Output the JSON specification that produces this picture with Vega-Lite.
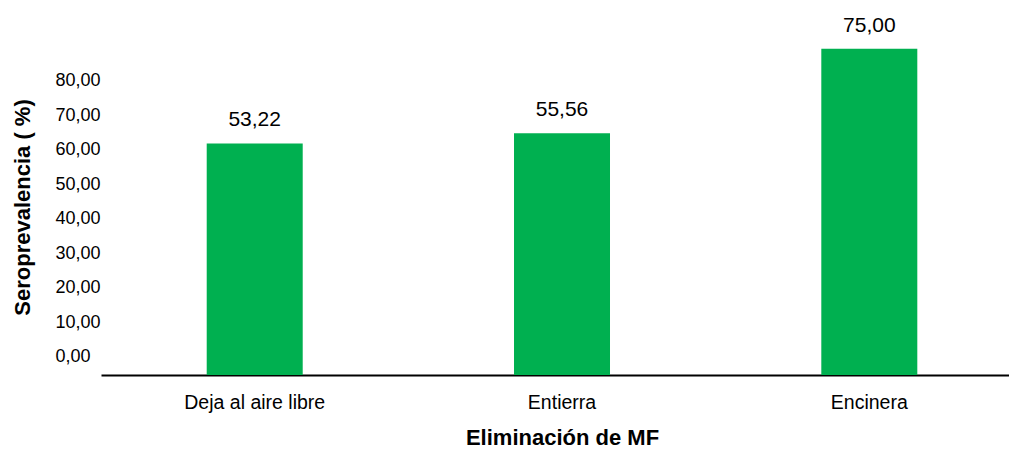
{
  "$schema": "https://vega.github.io/schema/vega-lite/v6.json",
  "width": 908,
  "height": 365,
  "autosize": "none",
  "padding": {"left": 101, "top": 10, "right": 0, "bottom": 78},
  "config": {
    "view": {"stroke": null},
    "font": "Liberation Sans, Arial, sans-serif",
    "locale": {"number": {"decimal": ",", "thousands": ".", "grouping": [3], "currency": ["", " €"]}}
  },
  "datasets": {
    "bars": [
      {"eliminacion": "Deja al aire libre", "valor": 53.22},
      {"eliminacion": "Entierra", "valor": 55.56},
      {"eliminacion": "Encinera", "valor": 75.00}
    ],
    "ticks": [
      {"t": 0}, {"t": 10}, {"t": 20}, {"t": 30}, {"t": 40}, {"t": 50}, {"t": 60}, {"t": 70}, {"t": 80}
    ]
  },
  "layer": [
    {
      "data": {"name": "bars"},
      "mark": {"type": "bar", "color": "#00B050"},
      "encoding": {
        "x": {
          "field": "eliminacion", "type": "nominal", "sort": null,
          "scale": {"paddingInner": 0.6876, "paddingOuter": 0.3212, "align": 0.5355, "round": false},
          "axis": {
            "title": "Eliminación de MF",
            "labelAngle": 0,
            "domainColor": "#000000",
            "domainWidth": 2,
            "ticks": false,
            "labelFontSize": 19.5,
            "labelColor": "#000000",
            "labelPadding": 18,
            "titleFontSize": 22,
            "titleFontWeight": "bold",
            "titleColor": "#000000",
            "titlePadding": 16,
            "titleX": 461,
            "titleAlign": "center"
          }
        },
        "y": {
          "field": "valor", "type": "quantitative",
          "scale": {"domain": [0, 83.9], "nice": false, "zero": true},
          "axis": null
        }
      }
    },
    {
      "data": {"name": "bars"},
      "mark": {"type": "text", "baseline": "middle", "dy": -23, "fontSize": 21, "color": "#000000"},
      "encoding": {
        "x": {"field": "eliminacion", "type": "nominal", "sort": null},
        "y": {
          "field": "valor", "type": "quantitative",
          "scale": {"domain": [0, 83.9], "nice": false, "zero": true},
          "axis": null
        },
        "text": {"field": "valor", "type": "quantitative", "format": ".2f"}
      }
    },
    {
      "data": {"name": "ticks"},
      "mark": {"type": "point", "opacity": 0},
      "encoding": {
        "y": {
          "field": "t", "type": "quantitative",
          "scale": {"domain": [-5.22, 100.58], "nice": false, "zero": false},
          "axis": {
            "orient": "left",
            "title": "Seroprevalencia ( %)",
            "values": [0, 10, 20, 30, 40, 50, 60, 70, 80],
            "format": ".2f",
            "grid": false,
            "domain": false,
            "ticks": false,
            "tickSize": 0,
            "labelAlign": "left",
            "labelPadding": 46,
            "labelFontSize": 18,
            "labelColor": "#000000",
            "titleFontSize": 22,
            "titleFontWeight": "bold",
            "titleColor": "#000000",
            "titleX": -79,
            "titleY": 197,
            "titleBaseline": "middle",
            "titleAlign": "center"
          }
        }
      }
    }
  ],
  "resolve": {"scale": {"y": "independent"}, "axis": {"y": "independent"}}
}
